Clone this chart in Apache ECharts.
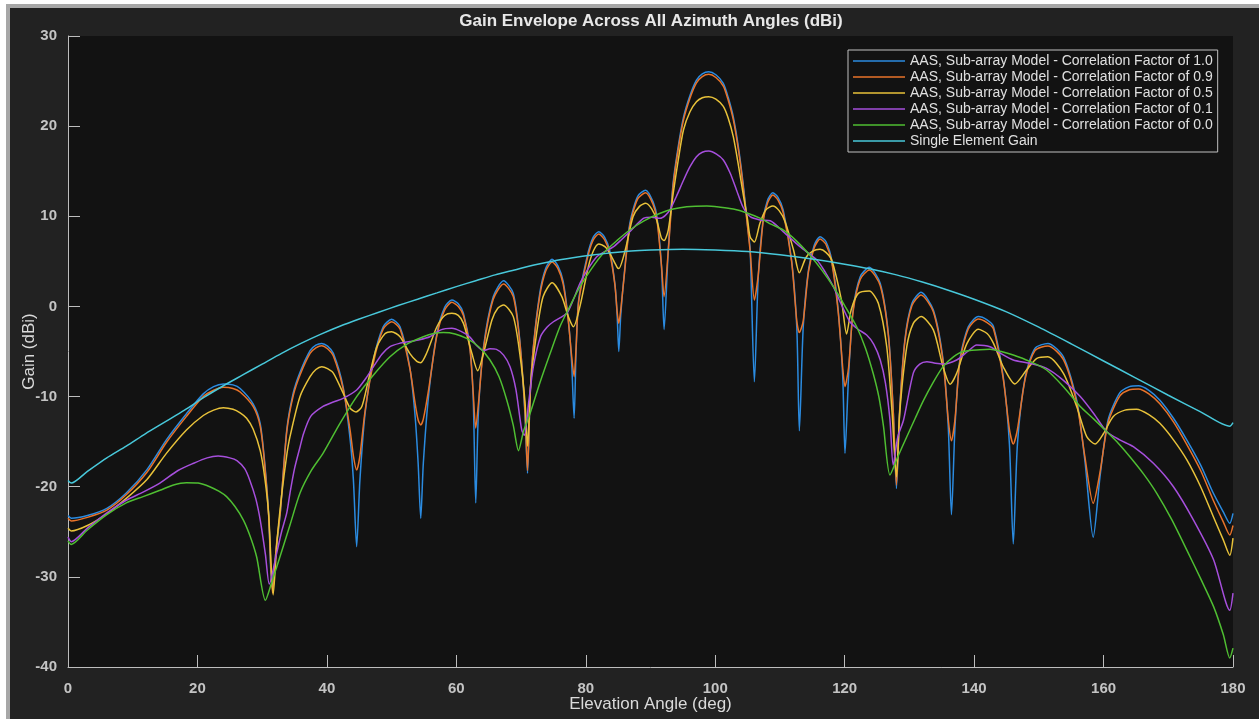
<!DOCTYPE html>
<html>
<head>
<meta charset="utf-8">
<script src="https://cdn.jsdelivr.net/npm/echarts@6/dist/echarts.min.js"></script>
<style>
  html, body { margin:0; padding:0; width:1259px; height:719px; overflow:hidden; background:#ffffff; }
  #frame { position:absolute; left:6px; top:4px; width:1270px; height:730px; background:#222222;
           border-left:4px solid #a7a7a7; border-top:4px solid #a7a7a7; }
  #chart { position:absolute; left:0; top:0; width:1259px; height:719px; }
</style>
</head>
<body>
<div id="frame"></div>
<div id="chart"></div>
<script>
// ---------------- data ----------------
const titleText = 'Gain Envelope Across All Azimuth Angles (dBi)';
const xAxisName = 'Elevation Angle (deg)';
const yAxisName = 'Gain (dBi)';
const seriesNames = [
  'AAS, Sub-array Model - Correlation Factor of 1.0',
  'AAS, Sub-array Model - Correlation Factor of 0.9',
  'AAS, Sub-array Model - Correlation Factor of 0.5',
  'AAS, Sub-array Model - Correlation Factor of 0.1',
  'AAS, Sub-array Model - Correlation Factor of 0.0',
  'Single Element Gain'
];
const xTicks = [0, 20, 40, 60, 80, 100, 120, 140, 160, 180];
const yTicks = [-40, -30, -20, -10, 0, 10, 20, 30];

const corr10 = [
[0,-23.2],[0.5,-23.5],[3,-23.2],[6,-22.4],[9,-20.7],[12.2,-18.1],[15.2,-14.8],[18.3,-11.9],[20.9,-9.7],[22.5,-8.9],[24,-8.6],[25.5,-8.7],[26.6,-9.1],[28.6,-10.8],[29.7,-13.0],[30.4,-17.4],[31,-23],[31.5,-31.1],
[32.2,-26.7],[32.8,-22.9],[33.8,-13.7],[34.8,-9.6],[35.85,-7.3],[37.4,-4.9],[38.3,-4.3],[39.2,-4.1],[40.1,-4.4],[41.0,-5.2],[42.5,-8.9],[43.6,-14.8],[44.1,-19.3],[44.6,-26.65],
[45.1,-19.3],[45.9,-11.9],[47.2,-5.9],[48.7,-2.25],[50.0,-1.43],[51.3,-2.25],[52.8,-6.7],[53.6,-11.9],[54.1,-17.4],[54.5,-23.5],
[54.9,-17.4],[55.7,-10.0],[57.0,-3.0],[58.2,-0.1],[59.3,0.71],[60.3,0.3],[61.1,-0.77],[62.1,-4.5],[62.6,-10.0],[63.0,-21.8],
[63.4,-11.9],[64.2,-4.5],[65.7,1.08],[67.3,2.85],[68.8,1.45],[69.8,-3.7],[70.6,-11.9],[71.0,-18.5],
[71.4,-10.0],[71.9,-4.5],[72.9,1.5],[73.8,4.2],[74.8,5.23],[75.7,4.5],[76.5,2.8],[77.3,-1.5],[77.8,-6.0],[78.2,-12.4],
[78.5,-5.0],[78.9,0.7],[80.2,5.5],[81.1,7.6],[82.0,8.29],[82.9,7.7],[83.7,6.2],[84.5,2.5],[84.85,-1.0],[85.1,-5.0],
[85.4,-1.0],[85.8,2.5],[86.8,9.2],[88.0,12.2],[89.25,12.9],[90.4,11.6],[91.0,9.9],[91.7,4.4],[92.1,-2.55],
[92.75,6.3],[93.5,13.7],[94.3,17.8],[95.1,21.0],[96.1,23.4],[97.1,25.1],[98.0,25.8],[99.0,26.04],[100.1,25.7],[101.25,24.75],[102.0,23.2],[102.8,21.0],[103.6,17.6],[104.3,13.7],[105.0,9.0],[105.4,6.3],[106.05,-8.35],
[106.65,3.3],[107.4,9.6],[108.1,11.8],[108.9,12.6],[109.7,12.1],[110.5,10.7],[111.8,5.15],[112.6,-2.25],[113.0,-13.8],
[113.6,-2.25],[114.4,4.0],[115.3,6.8],[116.2,7.74],[117.1,7.2],[118.0,5.15],[119.0,-0.4],[119.7,-7.8],[120.05,-16.3],
[120.6,-7.8],[121.3,-0.4],[122.4,3.3],[123.8,4.34],[125.5,2.56],[126.75,-3.0],[127.5,-11.5],[128.0,-20.2],
[128.5,-11.5],[129.3,-3.7],[130.4,0.35],[131.8,1.56],[133.7,-0.4],[135.2,-5.9],[136.0,-13.3],[136.5,-23.1],
[137.05,-13.3],[137.8,-5.9],[139.1,-2.25],[140.65,-1.13],[142.0,-1.5],[143.0,-2.25],[144.5,-7.8],[145.45,-15.2],[146.05,-26.35],
[146.7,-15.2],[147.9,-7.8],[149.4,-4.65],[151.4,-4.1],[153.8,-5.6],[155.85,-10.4],[157.1,-17.0],[158.4,-25.6],
[159.45,-18.9],[160.7,-12.6],[162.5,-9.6],[164,-8.9],[165.4,-8.8],[167,-9.3],[168.7,-10.4],[170.8,-12.4],[172.85,-14.8],[175,-17.6],[176.95,-20.7],[178.5,-22.8],[179.5,-24.06],[180,-22.95]
];

const corr09 = [
[0,-23.5],[0.5,-23.8],[3,-23.4],[6,-22.6],[9,-20.9],[12.2,-18.4],[15.2,-15.1],[18.3,-12.2],[20.9,-10.0],[22.5,-9.3],[24,-8.97],[25.5,-9.1],[26.6,-9.5],[28.6,-11.1],[29.7,-13.3],[30.4,-17.6],[31,-23.2],[31.6,-31.8],
[32.2,-26.5],[32.8,-22.8],[33.8,-13.9],[34.8,-9.9],[35.85,-7.6],[37.4,-5.2],[38.3,-4.6],[39.2,-4.35],[40.1,-4.7],[41.0,-5.5],[42.5,-9.1],[43.6,-13.8],[44.1,-16.6],[44.6,-18.15],
[45.1,-16.6],[45.9,-11.6],[47.2,-6.2],[48.7,-2.5],[50.0,-1.7],[51.3,-2.5],[52.8,-6.8],[53.6,-10.6],[54.1,-12.6],[54.5,-13.15],
[54.9,-12.5],[55.7,-9.3],[57.0,-3.2],[58.2,-0.4],[59.3,0.45],[60.3,0.0],[61.1,-1.0],[62.1,-4.7],[62.6,-9.5],[63.0,-13.5],
[63.4,-10.9],[64.2,-4.7],[65.7,0.8],[67.3,2.49],[68.8,1.1],[69.8,-3.9],[70.6,-11.5],[71.0,-18.2],
[71.4,-9.9],[71.9,-4.6],[72.9,1.2],[73.8,3.9],[74.8,4.93],[75.7,4.2],[76.5,2.5],[77.3,-1.6],[77.8,-5.4],[78.2,-7.8],
[78.5,-4.6],[78.9,0.5],[80.2,5.2],[81.1,7.3],[82.0,8.03],[82.9,7.4],[83.7,5.9],[84.5,2.4],[84.85,-0.6],[85.1,-1.88],
[85.4,-0.4],[85.8,2.4],[86.8,8.9],[88.0,11.9],[89.25,12.6],[90.4,11.3],[91.0,9.6],[91.7,4.5],[92.1,1.08],
[92.75,6.2],[93.5,13.4],[94.3,17.5],[95.1,20.7],[96.1,23.1],[97.1,24.8],[98.0,25.5],[99.0,25.75],[100.1,25.4],[101.25,24.45],[102.0,22.9],[102.8,20.7],[103.6,17.3],[104.3,13.4],[105.0,8.8],[105.4,6.1],[106.05,0.71],
[106.65,3.5],[107.4,9.4],[108.1,11.5],[108.9,12.36],[109.7,11.8],[110.5,10.4],[111.8,5.0],[112.6,-1.6],[113.0,-2.9],
[113.6,-1.6],[114.4,3.8],[115.3,6.5],[116.2,7.48],[117.1,6.9],[118.0,4.9],[119.0,-0.6],[119.7,-6.8],[120.05,-8.9],
[120.6,-6.8],[121.3,-0.6],[122.4,3.0],[123.8,4.04],[125.5,2.3],[126.75,-3.2],[127.5,-11.6],[128.0,-19.8],
[128.5,-11.6],[129.3,-3.9],[130.4,0.1],[131.8,1.27],[133.7,-0.6],[135.2,-6.1],[136.0,-12.5],[136.5,-14.9],
[137.05,-12.5],[137.8,-6.1],[139.1,-2.5],[140.65,-1.4],[142.0,-1.8],[143.0,-2.5],[144.5,-8.0],[145.45,-13.6],[146.05,-15.26],
[146.7,-13.6],[147.9,-8.0],[149.4,-4.9],[151.4,-4.39],[153.8,-5.9],[155.85,-10.7],[157.1,-16.6],[158.4,-21.84],
[159.45,-18.4],[160.7,-12.9],[162.5,-9.95],[164,-9.25],[165.4,-9.16],[167,-9.7],[168.7,-10.8],[170.8,-12.8],[172.85,-15.3],[175,-18.2],[176.95,-21.5],[178.5,-23.9],[179.5,-25.36],[180,-24.3]
];

const corr05 = [
[0,-24.6],[0.5,-24.9],[3,-24.3],[6,-23.0],[9,-21.3],[12.2,-19.2],[15.2,-16.3],[18.3,-13.7],[20.9,-12.1],[22.5,-11.5],[24,-11.23],[25.5,-11.4],[26.6,-11.8],[27.6,-12.4],[28.6,-13.6],[29.7,-16.0],[30.4,-19.0],[31,-23],[31.7,-32.0],
[32.3,-26],[33,-21],[33.8,-16.5],[34.3,-14.45],[35.85,-10.0],[37.4,-7.8],[38.3,-7.0],[39.2,-6.68],[40.1,-6.9],[41.0,-7.4],[42.5,-9.6],[43.6,-11.3],[44.5,-11.7],
[45.4,-11.1],[46.4,-8.2],[47.7,-4.5],[49.0,-3.0],[50.0,-2.8],[51.3,-3.36],[52.8,-5.2],[53.9,-6.1],[54.5,-6.24],
[55.4,-5.2],[57.0,-2.25],[58.2,-1.0],[59.3,-0.77],[60.3,-1.0],[61.1,-1.88],[62.4,-5.2],[63.3,-7.13],
[64.2,-5.2],[65.5,-1.5],[66.4,-0.2],[67.3,0.16],[68.8,-1.13],[69.8,-5.2],[70.6,-10.5],[71.0,-15.5],
[71.5,-8.5],[72.4,-3.0],[73.4,1.08],[74.8,2.63],[76.3,1.08],[77.3,-1.13],[78.1,-2.25],
[79.1,0.0],[80.4,4.4],[81.2,6.2],[82.0,6.93],[83.0,6.6],[83.7,5.9],[84.8,4.4],[85.1,4.2],
[86.1,6.26],[87.3,9.96],[88.3,11.1],[89.25,11.44],[90.2,10.8],[90.95,9.6],[91.7,7.56],[92.1,7.3],
[92.75,8.5],[93.5,12.5],[94.3,16.3],[95.1,19.6],[96.1,21.6],[97.1,22.7],[98.0,23.15],[99.0,23.27],[100.1,23.0],[101.25,22.2],[102.0,20.9],[102.8,18.8],[103.6,15.6],[104.3,12.55],[105.0,9.6],[105.4,7.7],[106.05,7.15],
[106.9,9.2],[107.8,10.7],[108.9,11.14],[109.9,10.6],[110.8,9.4],[112.1,6.26],[113.0,3.74],
[114.0,5.4],[115.0,6.1],[116.2,6.33],[117.1,6.0],[118.0,5.15],[119.5,0.71],[120.3,-3.06],
[121.0,-0.4],[122.1,1.45],[123.8,1.71],[125.2,0.35],[126.5,-4.47],[127.3,-11.5],[128.0,-18.9],
[128.5,-11.86],[129.6,-4.47],[130.6,-1.88],[131.8,-1.13],[133.7,-2.6],[135.2,-6.7],[136.3,-8.64],
[137.3,-7.42],[138.9,-4.1],[140.65,-2.54],[142.0,-3.0],[143.0,-4.1],[144.5,-6.7],[146.3,-8.6],
[148.1,-7.05],[149.7,-5.76],[151.4,-5.58],[153.8,-7.42],[155.85,-11.1],[157.4,-14.45],[158.7,-15.26],
[160.0,-14.1],[161.5,-12.2],[163.3,-11.5],[165.1,-11.4],[167,-12.0],[168.7,-12.97],[170.8,-14.8],[172.85,-17.0],[175,-20.0],[176.95,-23.3],[178.5,-25.9],[179.5,-27.6],[180,-25.7]
];

const corr01 = [
[0,-25.6],[0.5,-26.1],[3,-24.6],[6,-22.9],[9,-21.5],[11.6,-20.6],[14.2,-19.6],[17.0,-18.2],[19.4,-17.4],[21.5,-16.8],[23.2,-16.6],[25,-16.8],[26.1,-17.1],[27.3,-18.0],[28.1,-19.3],[29.0,-21.3],[29.7,-23.7],[30.5,-27.5],[31.1,-30.8],
[32.2,-27.5],[33.0,-25],[33.8,-22.9],[34.3,-20.7],[35.0,-18],[35.85,-15.6],[36.4,-14.1],[37.5,-12.2],[39.4,-11.1],[41,-10.6],[42.5,-10.2],[44.6,-9.27],[46,-8.0],[47.2,-6.68],[48.5,-5.3],[49.75,-4.47],[51.2,-4.1],[52.8,-3.9],[54.3,-3.7],[55.9,-3.36],[57.6,-2.6],[59.3,-2.43],[60.8,-2.8],[62.1,-3.4],[63.2,-4.4],[64.2,-4.9],[65.2,-4.7],[66.2,-4.76],[67.3,-5.4],[68.3,-6.68],[69.2,-9.2],[70.1,-13.7],[70.5,-14.3],[71.2,-10.5],[71.9,-6.68],[73.0,-3.36],[74,-2.3],[75.0,-1.7],[77.05,-0.77],[78.1,0.8],[79.1,2.56],[80.3,4.1],[81.7,5.5],[83,6.1],[84.25,6.6],[85.5,7.4],[86.8,8.3],[88.9,9.77],[90.2,9.9],[91.5,9.77],[92.3,10.1],[93.0,10.7],[94,12.2],[95.1,14.0],[96.1,15.5],[97.1,16.6],[98.0,17.1],[99.0,17.24],[100.2,16.9],[101.25,16.25],[102.3,14.8],[103.3,12.9],[104.3,11.0],[105.4,9.96],[106.9,9.6],[108.5,9.5],[110.5,8.3],[113.1,6.63],[115.7,5.15],[117,3.8],[118.25,2.19],[119.5,0.2],[120.8,-1.7],[122,-2.5],[123.4,-3.17],[124.5,-4.2],[125.5,-5.94],[126.3,-8.5],[127.0,-12.6],[127.5,-17.6],[128.2,-14.5],[129.1,-12.6],[130.6,-7.4],[131.6,-6.4],[132.7,-6.13],[134,-6.3],[135.2,-6.39],[137.3,-5.94],[139,-5.0],[140.4,-4.28],[142.45,-4.47],[144.3,-5.3],[146.05,-5.94],[148.5,-6.3],[151.2,-6.87],[153.8,-8.2],[156.4,-10.0],[158.5,-11.9],[160.5,-13.9],[162.5,-14.8],[164.6,-15.56],[167.7,-17.4],[170.8,-20.0],[173.9,-23.7],[177.0,-28.1],[179.5,-33.7],[180,-31.8]
];

const corr00 = [
[0,-26.0],[0.5,-26.4],[3,-24.8],[6,-23.1],[9,-21.8],[11.6,-21.1],[14.2,-20.4],[16.3,-19.8],[18.3,-19.55],[20.1,-19.6],[21.9,-20.0],[23.3,-20.5],[24.5,-21.1],[25.8,-22.2],[27.1,-23.7],[28.2,-25.6],[29.15,-27.8],[30.5,-32.6],[31.4,-30.8],[32.25,-28.9],[34.3,-24.25],[35.85,-20.7],[37.6,-18.2],[39.4,-16.3],[42,-13.0],[44.6,-10.0],[47.2,-7.6],[49.75,-5.58],[52.3,-4.2],[54.9,-3.36],[56.5,-3.0],[58.0,-2.9],[59.8,-3.05],[61.6,-3.55],[63.5,-4.5],[65.2,-5.94],[66.6,-7.8],[67.8,-10.4],[68.8,-13.2],[69.6,-16.0],[70.4,-13.8],[71.4,-11.86],[72.9,-8.5],[74.5,-5.2],[76.0,-2.25],[77.6,0.1],[79.1,2.19],[80.9,4.2],[82.7,5.9],[84.8,7.3],[86.8,8.48],[89,9.5],[91.5,10.33],[93.5,10.8],[95.6,11.06],[98.7,11.14],[100.8,11.0],[102.8,10.8],[104.8,10.4],[106.9,9.8],[108.7,9.1],[110.5,8.48],[112.5,7.3],[114.6,5.7],[116.5,4.0],[118.25,2.19],[120,0.1],[121.85,-2.25],[123.2,-4.6],[124.4,-7.42],[125.3,-10.1],[126.0,-13.3],[127.0,-18.7],[128.2,-16.7],[129.6,-14.45],[130.9,-12.4],[132.2,-10.4],[133.7,-8.4],[135.2,-6.68],[136.8,-5.6],[138.3,-5.0],[140.9,-4.8],[142.45,-4.75],[144.2,-5.0],[146.05,-5.39],[148.6,-6.1],[151.2,-7.05],[153.8,-8.9],[156.4,-11.1],[158.5,-12.5],[160.5,-13.9],[162.3,-15.2],[164.1,-16.7],[166.2,-18.6],[168.2,-20.7],[170.5,-23.6],[172.85,-27.0],[175,-30.2],[177.0,-33.3],[178.5,-36.4],[179.5,-39.0],[180,-37.9]
];

const singleElement = [
[0,-19.3],[0.5,-19.6],[3,-18.3],[6,-16.8],[9,-15.5],[12,-14.1],[15,-12.8],[18,-11.5],[21,-10.1],[24,-8.8],[27,-7.6],[30,-6.4],[33,-5.2],[36,-4.1],[39,-3.1],[42,-2.2],[45,-1.4],[48,-0.65],[51,0.1],[54,0.8],[57,1.5],[60,2.2],[63,2.85],[66,3.5],[69,4.05],[72,4.6],[75,5.05],[78,5.4],[81,5.7],[84,5.95],[87,6.15],[90,6.25],[95,6.33],[100,6.25],[105,6.08],[110,5.72],[115,5.25],[120,4.68],[124,4.15],[128,3.5],[132,2.7],[136,1.8],[140,0.8],[145,-0.6],[150,-2.3],[155,-4.15],[160,-6.05],[165,-7.95],[170,-9.85],[175,-11.7],[179.5,-13.3],[180,-12.9]
];

const seriesData = [corr10, corr09, corr05, corr01, corr00, singleElement];
const seriesColors = ['#2b8be0', '#e8732a', '#e8c23a', '#a64fdc', '#4fbe32', '#48c8da'];

// ---------------- chart ----------------
const chart = echarts.init(document.getElementById('chart'), null, { renderer: 'canvas' });
const FONT = '"Liberation Sans", Arial, Helvetica, sans-serif';
const axisGray = '#bdbdbd';

const option = {
  animation: false,
  backgroundColor: 'transparent',
  textStyle: { fontFamily: FONT },
  title: {
    text: titleText,
    left: 651, top: 13, textAlign: 'center', padding: 0,
    textStyle: { color: '#e8e8e8', fontSize: 17, fontWeight: 'bold', fontFamily: FONT }
  },
  grid: {
    left: 68, top: 36, right: 26, bottom: 52,
    show: true, backgroundColor: '#121212', borderWidth: 0
  },
  legend: {
    orient: 'vertical',
    left: 848, top: 50,
    padding: [3, 5, 3, 5],
    itemGap: 0,
    itemWidth: 52, itemHeight: 1.6,
    icon: 'rect',
    backgroundColor: '#121212',
    borderColor: '#c0c0c0', borderWidth: 1, borderRadius: 0,
    textStyle: { color: '#e0e0e0', fontSize: 14, lineHeight: 16, fontFamily: FONT },
    data: seriesNames
  },
  xAxis: {
    type: 'value', min: xTicks[0], max: xTicks[xTicks.length - 1], interval: 20,
    name: xAxisName, nameLocation: 'middle', nameGap: 29, nameMoveOverlap: false,
    nameTextStyle: { color: '#dadada', fontSize: 17, fontFamily: FONT },
    axisLine: { show: true, onZero: false, lineStyle: { color: axisGray, width: 1 } },
    axisTick: { show: true, inside: true, length: 12, lineStyle: { color: axisGray, width: 1 } },
    axisLabel: { color: '#c4c4c4', fontSize: 15, fontWeight: 'bold', margin: 14, fontFamily: FONT },
    splitLine: { show: false }
  },
  yAxis: {
    type: 'value', min: yTicks[0], max: yTicks[yTicks.length - 1], interval: 10,
    name: yAxisName, nameLocation: 'middle', nameGap: 30, nameMoveOverlap: false,
    nameTextStyle: { color: '#dadada', fontSize: 17, fontFamily: FONT },
    axisLine: { show: true, onZero: false, lineStyle: { color: axisGray, width: 1 } },
    axisTick: { show: true, inside: true, length: 12, lineStyle: { color: axisGray, width: 1 } },
    axisLabel: { color: '#c4c4c4', fontSize: 15, fontWeight: 'bold', margin: 11, fontFamily: FONT },
    splitLine: { show: false }
  },
  series: seriesNames.map((name, i) => ({
    name: name,
    type: 'line',
    data: seriesData[i],
    color: seriesColors[i],
    showSymbol: false,
    symbol: 'none',
    smooth: 0.25,
    lineStyle: { color: seriesColors[i], width: 1.5 },
    emphasis: { disabled: true },
    z: 2 + i
  }))
};
chart.setOption(option);
</script>
</body>
</html>
